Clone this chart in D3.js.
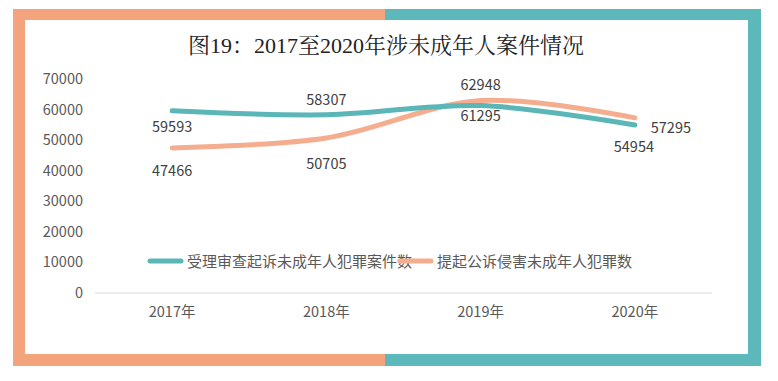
<!DOCTYPE html>
<html><head><meta charset="utf-8">
<script src="https://cdn.jsdelivr.net/npm/d3@7/dist/d3.min.js"></script>
<style>body{margin:0;background:#fff;}svg{display:block;}</style>
</head><body>
<svg id="chart" width="778" height="381"></svg>
<script>
const title = "图19：2017至2020年涉未成年人案件情况";
const categories = ["2017年", "2018年", "2019年", "2020年"];
const seriesNames = ["受理审查起诉未成年人犯罪案件数", "提起公诉侵害未成年人犯罪数"];
const prosecutedCases = [59593, 58307, 61295, 54954];
const infringementCases = [47466, 50705, 62948, 57295];
const yTicks = [0, 10000, 20000, 30000, 40000, 50000, 60000, 70000];

const svg = d3.select("#chart");
const teal = "#5db8bb", orange = "#f4a47c";
const lineTeal = "#5bb6b7", lineOrange = "#f4ae8f";
const font = "'Noto Sans CJK SC', 'Microsoft YaHei', sans-serif";

// frame
const fx0 = 13, fx1 = 761, fy0 = 9, fy1 = 366, bw = 12, split = 385;
svg.append("rect").attr("x", fx0).attr("y", fy0).attr("width", split - fx0).attr("height", fy1 - fy0).attr("fill", orange);
svg.append("rect").attr("x", split).attr("y", fy0).attr("width", fx1 - split).attr("height", fy1 - fy0).attr("fill", teal);
svg.append("rect").attr("x", fx0 + bw).attr("y", fy0 + 11).attr("width", fx1 - fx0 - 2 * bw - 1).attr("height", fy1 - fy0 - 23).attr("fill", "#fff");

// title
svg.append("text").attr("x", 386).attr("y", 53).attr("text-anchor", "middle")
  .attr("font-family", "'Liberation Serif', 'Noto Serif CJK SC', serif").attr("font-size", 22).attr("fill", "#222")
  .text(title);

const x = d3.scaleBand().domain(categories).range([95, 712]);
const y = d3.scaleLinear().domain([0, 70000]).range([293, 79]);
const cx = d => x(d) + x.bandwidth() / 2;

// y axis labels
svg.append("g").selectAll("text").data(yTicks).join("text")
  .attr("x", 83).attr("y", d => y(d) + 5).attr("text-anchor", "end")
  .attr("font-family", font).attr("font-size", 14.5).attr("fill", "#595959")
  .text(d => d);

// baseline
svg.append("line").attr("x1", 95).attr("x2", 712).attr("y1", y(0)).attr("y2", y(0))
  .attr("stroke", "#d9d9d9").attr("stroke-width", 1);

// x labels
svg.append("g").selectAll("text").data(categories).join("text")
  .attr("x", d => cx(d)).attr("y", 317).attr("text-anchor", "middle")
  .attr("font-family", font).attr("font-size", 14.5).attr("fill", "#595959")
  .text(d => d);

const line = d3.line().x((d, i) => cx(categories[i])).y(d => y(d)).curve(d3.curveCatmullRom.alpha(0.5));

svg.append("path").attr("d", line(infringementCases)).attr("fill", "none")
  .attr("stroke", lineOrange).attr("stroke-width", 5).attr("stroke-linecap", "round");
svg.append("path").attr("d", line(prosecutedCases)).attr("fill", "none")
  .attr("stroke", lineTeal).attr("stroke-width", 5).attr("stroke-linecap", "round");

// data labels: offsets [dx, dy] relative to point
const tealOffsets = [[0, 16], [0, -15], [0, 10], [-1, 22]];
const orangeOffsets = [[0, 23], [0, 26], [0, -16], [36, 10]];
function labels(vals, offs) {
  svg.append("g").selectAll("text").data(vals).join("text")
    .attr("x", (d, i) => cx(categories[i]) + offs[i][0])
    .attr("y", (d, i) => y(d) + offs[i][1] + 5)
    .attr("text-anchor", "middle")
    .attr("font-family", font).attr("font-size", 14.5).attr("fill", "#404040")
    .text(d => d);
}
labels(prosecutedCases, tealOffsets);
labels(infringementCases, orangeOffsets);

// legend
const leg = [{name: seriesNames[0], c: lineTeal, x: 150}, {name: seriesNames[1], c: lineOrange, x: 400}];
const lg = svg.append("g");
leg.forEach(l => {
  lg.append("line").attr("x1", l.x).attr("x2", l.x + 31).attr("y1", 261).attr("y2", 261)
    .attr("stroke", l.c).attr("stroke-width", 5).attr("stroke-linecap", "round");
  lg.append("text").attr("x", l.x + 37).attr("y", 266.5)
    .attr("font-family", font).attr("font-size", 15).attr("fill", "#595959").text(l.name);
});
</script>
</body></html>
